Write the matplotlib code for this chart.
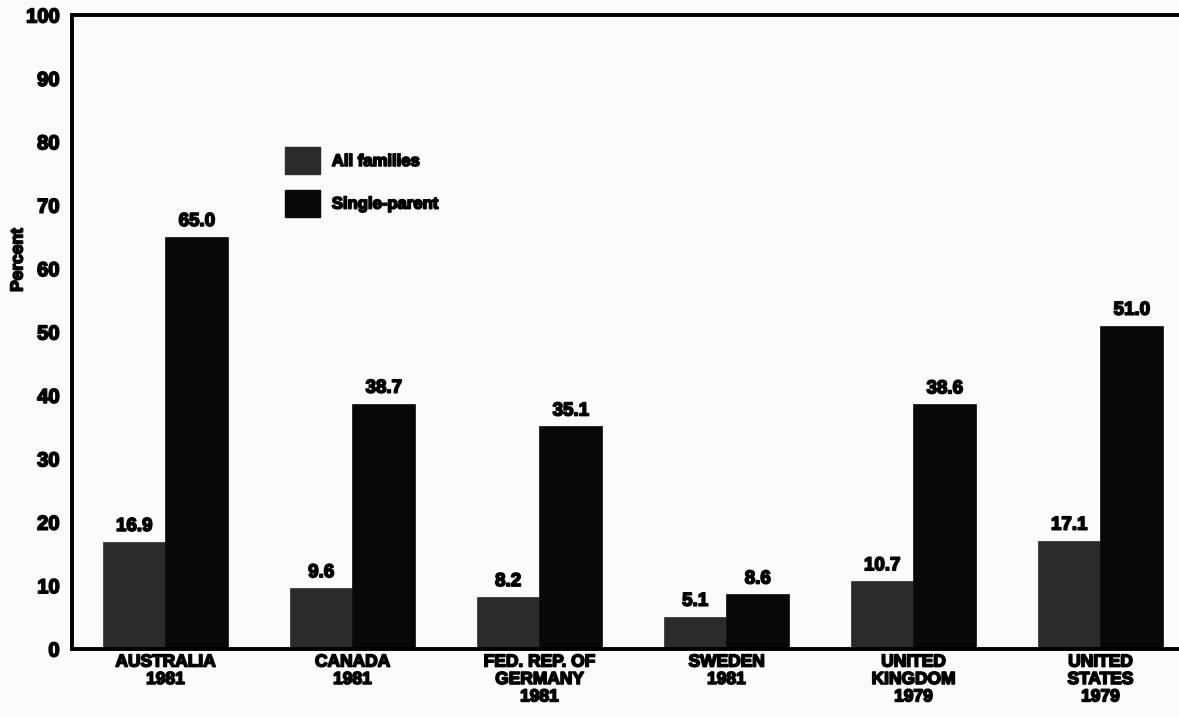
import matplotlib
matplotlib.use("Agg")
import matplotlib.pyplot as plt
import matplotlib.patheffects as pe
from matplotlib.patches import Patch
import numpy as np

countries = ["AUSTRALIA\n1981", "CANADA\n1981", "FED. REP. OF\nGERMANY\n1981",
             "SWEDEN\n1981", "UNITED\nKINGDOM\n1979", "UNITED\nSTATES\n1979"]
all_families = [16.9, 9.6, 8.2, 5.1, 10.7, 17.1]
single_parent = [65.0, 38.7, 35.1, 8.6, 38.6, 51.0]
series_names = ["All families", "Single-parent"]
yticks = list(range(0, 101, 10))

plt.rcParams["font.family"] = ["Liberation Sans", "DejaVu Sans"]
plt.rcParams["font.weight"] = "bold"

heavy = [pe.withStroke(linewidth=1.2, foreground="black")]

fig = plt.figure(figsize=(11.79, 7.17), dpi=100)
fig.patch.set_facecolor("#fbfbfb")
ax = fig.add_axes([72 / 1179, 1 - 649 / 717, (1179 - 72) / 1179, (649 - 15) / 717])
ax.set_facecolor("#fbfbfb")

x = np.arange(len(countries))
w = 0.335
c_all = "#2b2b2b"
c_single = "#080808"
b1 = ax.bar(x - w / 2, all_families, width=w, color=c_all, edgecolor=c_all, linewidth=0.5)
b2 = ax.bar(x + w / 2, single_parent, width=w, color=c_single, edgecolor=c_single, linewidth=0.5)

for bars, vals in ((b1, all_families), (b2, single_parent)):
    for rect, v in zip(bars, vals):
        ax.annotate(f"{v:.1f}", (rect.get_x() + rect.get_width() / 2, v),
                    xytext=(0, 5), textcoords="offset points",
                    ha="center", va="bottom", fontsize=13.5, fontweight="bold",
                    path_effects=heavy)

ax.set_xlim(-0.5, 5.42)
ax.set_ylim(0, 100)
ax.set_yticks(yticks)
ax.set_yticklabels([str(t) for t in yticks], fontsize=14.5, fontweight="bold")
for lab in ax.get_yticklabels():
    lab.set_path_effects(heavy)
ax.tick_params(axis="y", length=0, pad=9)
ax.set_xticks(x)
ax.set_xticklabels(countries, fontsize=12.5, fontweight="bold", linespacing=1.2)
for lab in ax.get_xticklabels():
    lab.set_path_effects(heavy)
ax.tick_params(axis="x", length=0, pad=4)

for side in ("left", "top", "bottom"):
    ax.spines[side].set_linewidth(2.8)
    ax.spines[side].set_color("black")
ax.spines["right"].set_visible(False)

fig.text(18 / 1179, 1 - 260 / 717, "Percent", rotation=90, ha="center", va="center",
         fontsize=12.5, fontweight="bold", path_effects=heavy)

handles = [Patch(facecolor=c_all, edgecolor=c_all), Patch(facecolor=c_single, edgecolor=c_single)]
leg = ax.legend(handles, series_names, loc="upper left", bbox_to_anchor=(0.179, 0.815),
                frameon=False, fontsize=12, handlelength=2.1, handleheight=2.1,
                handletextpad=0.7, labelspacing=0.95)
for t in leg.get_texts():
    t.set_fontweight("bold")
    t.set_path_effects(heavy)

fig.savefig("out.png", dpi=100, facecolor=fig.get_facecolor())
